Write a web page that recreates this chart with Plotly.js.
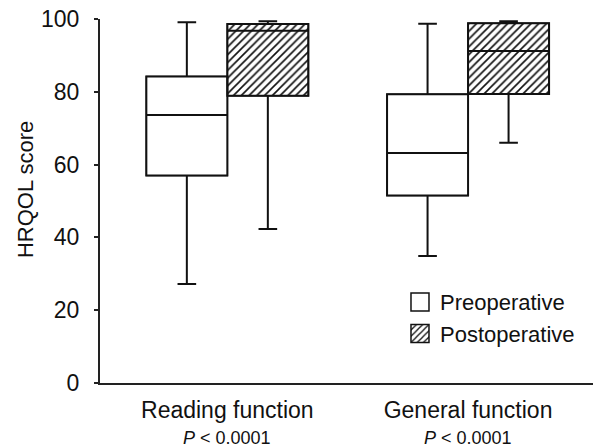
<!DOCTYPE html>
<html>
<head>
<meta charset="utf-8">
<script src="https://cdn.plot.ly/plotly-3.0.1.min.js"></script>
<style>html,body{margin:0;padding:0;background:#fff;}</style>
</head>
<body>
<div id="chart" style="width:598px;height:448px;"></div>
<script>
const categories = ['Reading function', 'General function'];
const pLabels = ['<i>P</i> < 0.0001', '<i>P</i> < 0.0001'];

const preLowerFence = [27.2, 34.9];
const preQ1 = [57.0, 51.5];
const preMedian = [73.6, 63.2];
const preQ3 = [84.2, 79.3];
const preUpperFence = [99.1, 98.7];

const postLowerFence = [42.3, 66.0];
const postQ1 = [78.9, 79.4];
const postMedian = [96.8, 91.2];
const postQ3 = [98.6, 98.8];
const postUpperFence = [99.4, 99.4];

const yTicks = [0, 20, 40, 60, 80, 100];

const FONT = 'Liberation Sans, Arial, Helvetica, sans-serif';
const INK = '#111';

const gap = 0.327;

const traces = [
  {
    type: 'bar', name: 'Preoperative', x: categories,
    base: preQ1, y: preQ3.map((v, i) => v - preQ1[i]),
    marker: {color: '#fff', line: {color: INK, width: 1.5}},
    showlegend: true, hoverinfo: 'skip'
  },
  {
    type: 'bar', name: 'Postoperative', x: categories,
    base: postQ1, y: postQ3.map((v, i) => v - postQ1[i]),
    marker: {color: '#fff', line: {color: INK, width: 1.5},
      pattern: {shape: '/', fgcolor: INK, bgcolor: '#fff', size: 5.5, solidity: 0.3}},
    showlegend: true, hoverinfo: 'skip'
  },
  {
    type: 'box', name: 'Preoperative', x: categories,
    q1: preQ1, median: preMedian, q3: preQ3,
    lowerfence: preLowerFence, upperfence: preUpperFence,
    boxpoints: false, whiskerwidth: 0.23,
    fillcolor: '#fff', line: {color: INK, width: 2},
    showlegend: false
  },
  {
    type: 'box', name: 'Postoperative', x: categories,
    q1: postQ1, median: postMedian, q3: postQ3,
    lowerfence: postLowerFence, upperfence: postUpperFence,
    boxpoints: false, whiskerwidth: 0.23,
    fillcolor: 'rgba(0,0,0,0)', line: {color: INK, width: 2},
    showlegend: false
  }
];

const layout = {
  width: 598, height: 448,
  margin: {l: 100, r: 5, t: 19, b: 65},
  paper_bgcolor: '#fff', plot_bgcolor: '#fff',
  font: {family: FONT, color: INK, size: 22},
  boxmode: 'group', boxgap: gap, boxgroupgap: 0,
  barmode: 'group', bargap: gap, bargroupgap: 0,
  hovermode: false,
  xaxis: {
    type: 'category', range: [-0.529, 1.519],
    showline: true, linecolor: '#222', linewidth: 2,
    ticks: '', showgrid: false, zeroline: false,
    tickfont: {family: FONT, size: 23, color: INK},
    ticklabelstandoff: 5
  },
  yaxis: {
    range: [0, 100], tickvals: yTicks, ticktext: yTicks.map(String),
    showline: true, linecolor: '#222', linewidth: 2,
    ticks: 'outside', ticklen: 4, tickwidth: 2, tickcolor: '#222',
    showgrid: false, zeroline: false,
    tickfont: {family: FONT, size: 23, color: INK},
    ticklabelstandoff: 10
  },
  legend: {
    x: 0.6085, xanchor: 'left', y: 0.28, yanchor: 'top',
    bgcolor: 'rgba(0,0,0,0)', borderwidth: 0,
    font: {family: FONT, size: 22, color: INK},
    traceorder: 'normal'
  },
  annotations: categories.map((c, i) => ({
    x: c, xref: 'x', y: 0, yref: 'paper', yshift: -55,
    text: pLabels[i], showarrow: false, yanchor: 'middle',
    font: {family: FONT, size: 18, color: INK}
  })).concat([{
    text: 'HRQOL score', textangle: -90, showarrow: false,
    xref: 'paper', x: 0, xshift: -75, xanchor: 'center',
    yref: 'paper', y: 0.53, yanchor: 'middle',
    font: {family: FONT, size: 22, color: INK}
  }])
};

Plotly.newPlot('chart', traces, layout, {staticPlot: true, displayModeBar: false}).then(() => {
  document.querySelectorAll('#chart .legend .legendpoints path').forEach(p => {
    p.setAttribute('d', 'M9,9H-9V-9H9Z');
  });
});
</script>
</body>
</html>
